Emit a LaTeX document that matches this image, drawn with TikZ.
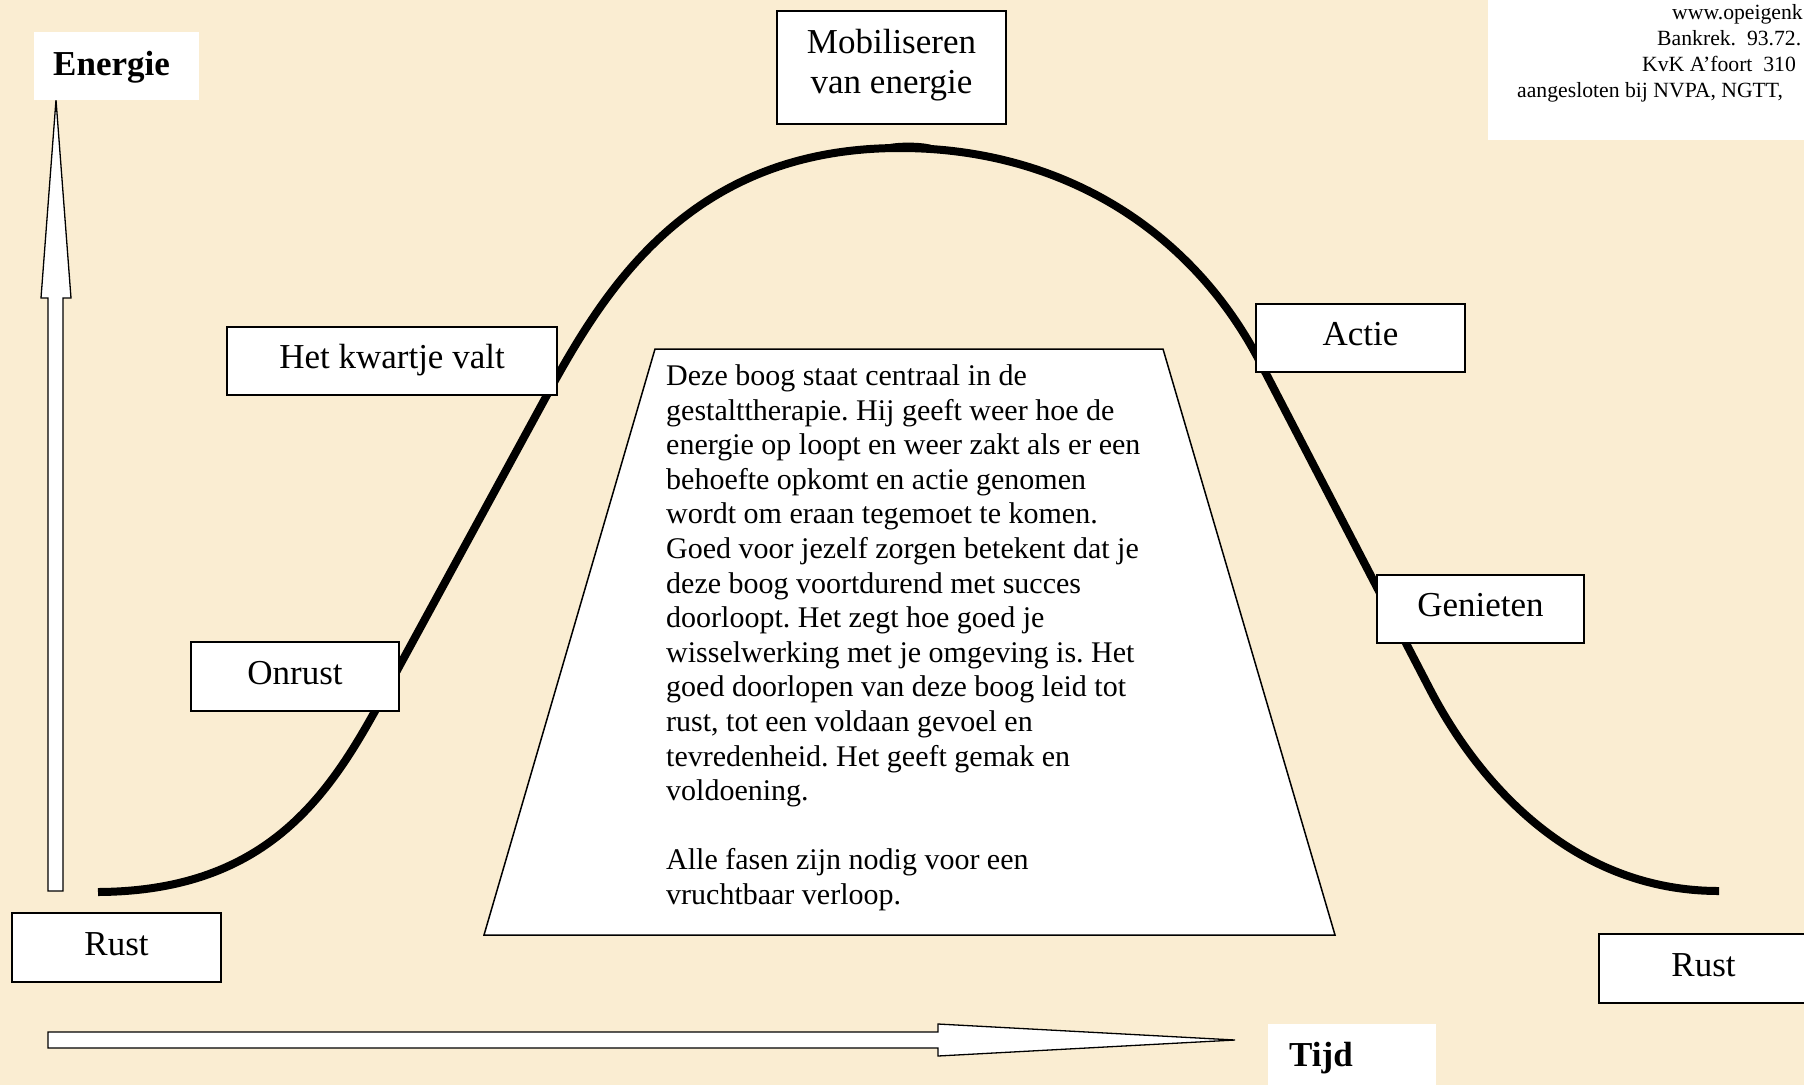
\documentclass[tikz,border=0pt]{standalone}
\usepackage{fontspec}
\setmainfont{Liberation Serif}
\definecolor{parch}{RGB}{250,237,210}
\frenchspacing
\begin{document}
\begin{tikzpicture}[x=1pt,y=-1pt,
  labelbox/.style={draw=black, line width=1.3pt, fill=white, inner sep=0pt,
    font=\fontsize{35}{40}\selectfont, text height=24.5pt, text depth=8.75pt},
  plainbox/.style={fill=white, draw=none},
  hollowarrow/.style={draw=black, line width=1.3pt, fill=white, line join=miter},
  arc/.style={draw=black, line width=8pt, line cap=butt, line join=round},
  bodytext/.style={font=\fontsize{30}{34.6}\selectfont, align=left, inner sep=0pt},
  smalltext/.style={font=\fontsize{21.7}{26}\selectfont, inner sep=0pt},
  boldlabel/.style={font=\fontsize{35}{40}\selectfont\bfseries, inner sep=0pt}]

% page
\useasboundingbox (0,0) rectangle (1804,1085);
\fill[parch] (0,0) rectangle (1804,1085);

% the curve
\coordinate (c0) at (98,892);
\coordinate (c1) at (400,665);
\coordinate (c2) at (547,395);
\coordinate (ctop) at (900,148);
\coordinate (c3) at (1260,362);
\coordinate (c4) at (1430,689.5);
\coordinate (c5) at (1719,891);
\draw[arc] (c0) .. controls (288,891) and (343,770) .. (c1)
  -- (c2) .. controls (605,289) and (690,148) .. (ctop)
  .. controls (1060,148) and (1191,228.8) .. (c3)
  -- (c4) .. controls (1476,778) and (1569,891) .. (c5);
\fill[black] (884,146) .. controls (890,141.5) and (926,141.5) .. (934,146) -- cycle;

% vertical arrow (Energie)
\draw[hollowarrow] (48,891) -- (48,298) -- (41,298) -- (56,100) -- (71,298)
  -- (63,298) -- (63,891) -- cycle;
% horizontal arrow (Tijd)
\draw[hollowarrow] (48,1032) -- (938,1032) -- (938,1024) -- (1235,1040)
  -- (938,1056) -- (938,1048) -- (48,1048) -- cycle;

% white label areas without border
\fill[plainbox] (34,32) rectangle (199,100);
\node[boldlabel, anchor=base west] (energie) at (53,75) {Energie};
\fill[plainbox] (1268,1024) rectangle (1436,1090);
\node[boldlabel, anchor=base west] (tijd) at (1289,1066) {Tijd};

% top right info block
\fill[plainbox] (1488,-5) rectangle (1810,140);
\begin{scope}
\clip (0,0) rectangle (1804,1085);
\node[smalltext, anchor=base west] (info1) at (1672,19) {www.opeigenk};
\node[smalltext, anchor=base west] (info2) at (1657,45) {Bankrek.~~93.72.};
\node[smalltext, anchor=base west] (info3) at (1642,71) {KvK A’foort~~310};
\node[smalltext, anchor=base west] (info4) at (1517,97) {aangesloten bij NVPA, NGTT,};
\end{scope}

% phase boxes
\node[labelbox, minimum width=229pt, minimum height=113pt] (mob) at (891.5,67.5) {};
\node[font=\fontsize{35}{40}\selectfont, align=center, inner sep=0pt] (mobtext) at (891.5,65)
  {Mobiliseren\\van energie};
\node[labelbox, minimum width=330pt, minimum height=68pt] (kwartje) at (392,361) {Het kwartje valt};
\node[labelbox, minimum width=208pt, minimum height=69pt] (onrust) at (295,676.5) {Onrust};
\node[labelbox, minimum width=209pt, minimum height=69pt] (rustl) at (116.5,947.5) {Rust};
\node[labelbox, minimum width=209pt, minimum height=68pt] (actie) at (1360.5,338) {Actie};
\node[labelbox, minimum width=207pt, minimum height=68pt] (genieten) at (1480.5,609) {Genieten};
\node[labelbox, minimum width=209pt, minimum height=69pt] (rustr) at (1703.5,968.5) {Rust};

% central trapezoid with text
\draw[line width=1.5pt, fill=white, line join=miter] (655,349) -- (1163,349) -- (1335,935) -- (484,935) -- cycle;
\node[bodytext, anchor=north west] (uitleg) at (666,364.5) {Deze boog staat centraal in de\\
gestalttherapie. Hij geeft weer hoe de\\
energie op loopt en weer zakt als er een\\
behoefte opkomt en actie genomen\\
wordt om eraan tegemoet te komen.\\
Goed voor jezelf zorgen betekent dat je\\
deze boog voortdurend met succes\\
doorloopt. Het zegt hoe goed je\\
wisselwerking met je omgeving is. Het\\
goed doorlopen van deze boog leid tot\\
rust, tot een voldaan gevoel en\\
tevredenheid. Het geeft gemak en\\
voldoening.\\[34.6pt]
Alle fasen zijn nodig voor een\\
vruchtbaar verloop.};
\end{tikzpicture}
\end{document}
